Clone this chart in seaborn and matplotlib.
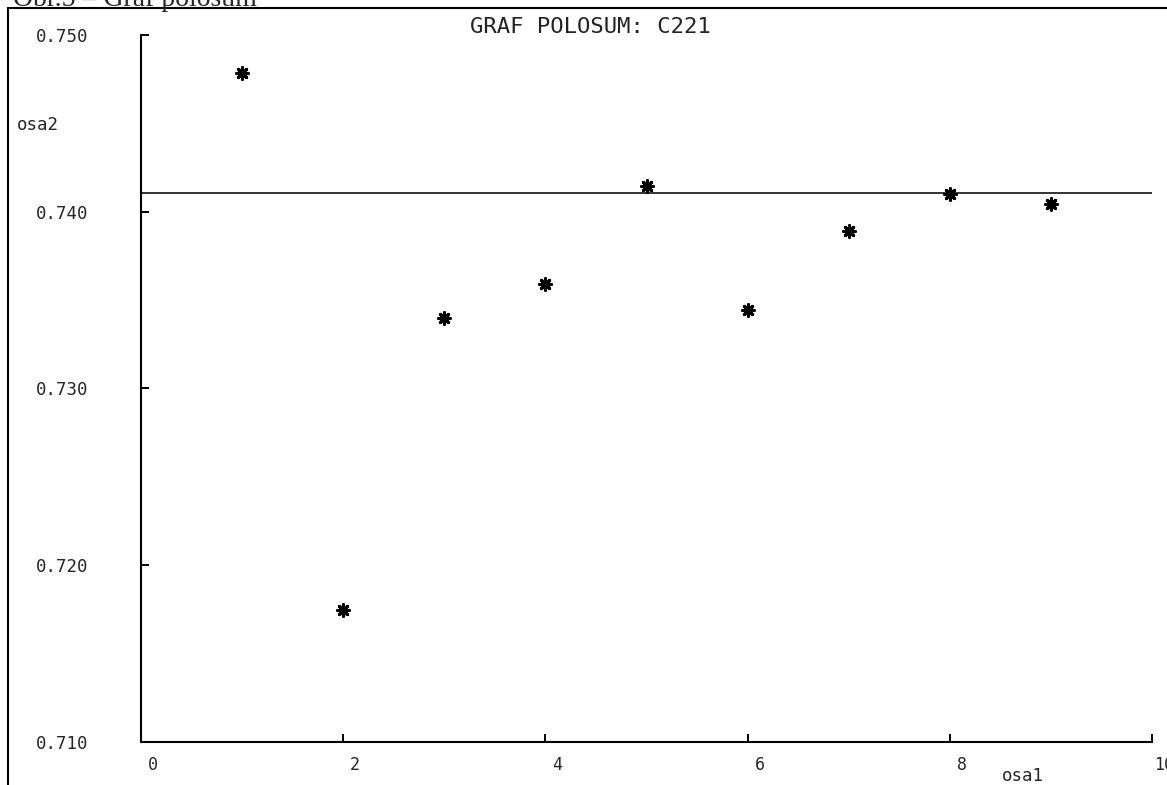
import matplotlib
matplotlib.use("Agg")
import matplotlib.pyplot as plt
import matplotlib.transforms as mtransforms
from matplotlib.lines import Line2D
import seaborn as sns
import pandas as pd

# ---- data ----
osa1 = [1, 2, 3, 4, 5, 6, 7, 8, 9]
osa2 = [0.74785, 0.71747, 0.73399, 0.73591, 0.74146, 0.73444, 0.73891, 0.74100, 0.74044]
reference_level = 0.74106
x_ticks = [0, 2, 4, 6, 8, 10]
y_ticks = [0.710, 0.720, 0.730, 0.740, 0.750]
y_tick_labels = ["0.710", "0.720", "0.730", "0.740", "0.750"]
title_text = "GRAF POLOSUM: C221"
caption_text = "Obr.5 \u2013 Graf polosum"

df = pd.DataFrame({"osa1": osa1, "osa2": osa2})

sns.set_theme(style="white")
plt.rcParams["font.family"] = ["DejaVu Sans Mono", "DejaVu Sans"]

W, H = 1167, 785
fig = plt.figure(figsize=(W / 100, H / 100), dpi=100)
ax = fig.add_axes([141 / W, 1 - 742 / H, (1152 - 141) / W, (742 - 35) / H])

sns.scatterplot(data=df, x="osa1", y="osa2", ax=ax, marker=(8, 2, 0), s=70,
                color="black", linewidth=2.2, legend=False, zorder=3)
ax.axhline(reference_level, color="#333333", linewidth=1.4, zorder=2)

ax.set_xlim(0, 10)
ax.set_ylim(0.710, 0.750)
ax.set_xticks(x_ticks)
ax.set_xticklabels([str(t) for t in x_ticks])
ax.set_yticks(y_ticks)
ax.set_yticklabels(y_tick_labels)

for s in ["top", "right"]:
    ax.spines[s].set_visible(False)
for s in ["left", "bottom"]:
    ax.spines[s].set_color("black")
    ax.spines[s].set_linewidth(1.5)

ax.tick_params(axis="x", direction="in", length=6, width=1.4, color="black",
               labelsize=12, pad=10, bottom=True)
ax.tick_params(axis="y", direction="in", length=6, width=1.4, color="black",
               labelsize=12.5, pad=52, left=True)
for lab in ax.get_yticklabels():
    lab.set_horizontalalignment("left")
offset = mtransforms.ScaledTranslation(12 / 100, 0, fig.dpi_scale_trans)
for lab in ax.get_xticklabels():
    lab.set_transform(lab.get_transform() + offset)
yoff = mtransforms.ScaledTranslation(-(141 - 36) / 100 + 52 / 72, 0, fig.dpi_scale_trans)
for lab in ax.get_yticklabels():
    lab.set_transform(lab.get_transform() + yoff)

ax.set_xlabel("osa1", fontsize=12.5)
ax.xaxis.set_label_coords((1023 - 141) / 1011, -(776 - 742) / 707)
ax.xaxis.label.set_va("center")
ax.set_ylabel("osa2", fontsize=12.5, rotation=0)
ax.yaxis.set_label_coords((38 - 141) / 1011, 1 - (125 - 35) / 707)
ax.yaxis.label.set_va("center")
ax.yaxis.label.set_ha("center")

ax.text((590 - 141) / 1011, 1 + 8 / 707, title_text, transform=ax.transAxes,
        ha="center", va="center", fontsize=16, color="#222222")

# outer frame
fig.add_artist(Line2D([8 / W, 8 / W], [0, 1 - 8 / H], color="black", linewidth=1.5,
                      transform=fig.transFigure))
fig.add_artist(Line2D([8 / W, 1], [1 - 8 / H, 1 - 8 / H], color="black", linewidth=1.5,
                      transform=fig.transFigure))
fig.text(13 / W, 1 - 6 / H, caption_text, family=["Liberation Serif", "DejaVu Serif"],
         fontsize=20, ha="left", va="baseline")

fig.savefig("out.png", dpi=100)
